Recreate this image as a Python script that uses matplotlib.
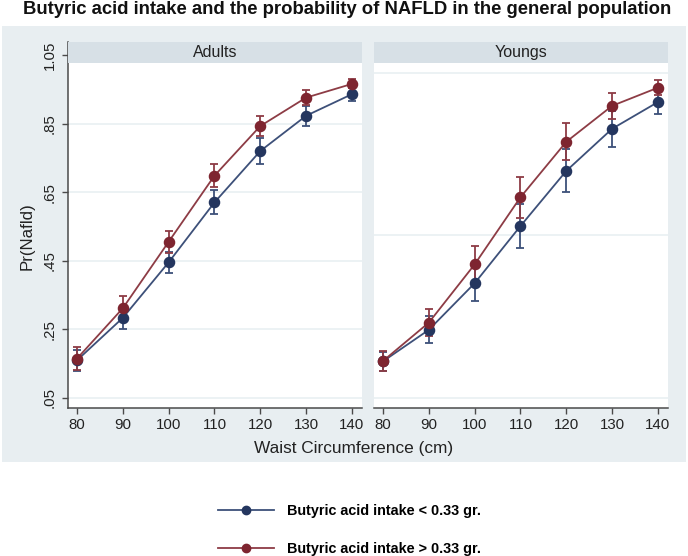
import numpy as np
import matplotlib
matplotlib.use('Agg')
import matplotlib.pyplot as plt
from matplotlib.patches import Rectangle
from matplotlib.lines import Line2D

plt.rcParams['font.family'] = ['Liberation Sans', 'DejaVu Sans']

# waist circumference (cm)
waist = [80, 90, 100, 110, 120, 130, 140]

# predicted Pr(NAFLD) and half-width of the 95% CI
adults_low = [0.160, 0.284, 0.446, 0.621, 0.771, 0.874, 0.937]
adults_low_ci = [0.030, 0.034, 0.030, 0.035, 0.038, 0.029, 0.019]
adults_high = [0.165, 0.312, 0.506, 0.699, 0.844, 0.927, 0.967]
adults_high_ci = [0.033, 0.036, 0.032, 0.033, 0.030, 0.021, 0.013]

young_low = [0.157, 0.249, 0.385, 0.552, 0.713, 0.836, 0.914]
young_low_ci = [0.028, 0.039, 0.051, 0.063, 0.063, 0.053, 0.035]
young_high = [0.158, 0.270, 0.440, 0.636, 0.798, 0.903, 0.956]
young_high_ci = [0.028, 0.040, 0.055, 0.060, 0.054, 0.037, 0.022]

panels = ['Adults', 'Youngs']
series_labels = ['Butyric acid intake < 0.33 gr.', 'Butyric acid intake > 0.33 gr.']
yticks_left = [0.05, 0.25, 0.45, 0.65, 0.85, 1.05]
ytick_labels = ['.05', '.25', '.45', '.65', '.85', '1.05']
grid_right = [0.05, 0.525, 1.0]

navy = '#24365f'
maroon = '#7e2530'
navy_line = '#3d5079'
maroon_line = '#8d3c45'
bg = '#e8eef1'
strip_col = '#d7e0e6'
grid_col = '#e9f0f2'
axis_col = '#4a4a4a'

W, H = 688, 556
fig = plt.figure(figsize=(W / 100, H / 100), dpi=100)
fig.patch.set_facecolor('white')

# light gray graph region
fig.patches.append(Rectangle((2 / W, 1 - 462 / H), 684 / W, 436 / H,
                             transform=fig.transFigure, facecolor=bg,
                             edgecolor='none', zorder=-5))


def px(x0, y0, x1, y1):
    return [x0 / W, 1 - y1 / H, (x1 - x0) / W, (y1 - y0) / H]


axL = fig.add_axes(px(68, 42, 362, 408))
axR = fig.add_axes(px(374, 42, 668, 408))

data = [(adults_low, adults_low_ci, adults_high, adults_high_ci),
        (young_low, young_low_ci, young_high, young_high_ci)]

for ax, (lo, lo_ci, hi, hi_ci) in zip([axL, axR], data):
    ax.set_facecolor('white')
    for vals, ci, mc, lc in [(lo, lo_ci, navy, navy_line), (hi, hi_ci, maroon, maroon_line)]:
        ax.errorbar(waist, vals, yerr=ci, fmt='none', ecolor=lc, elinewidth=1.3,
                    capsize=2.6, capthick=1.3, zorder=3)
        ax.plot(waist, vals, color=lc, lw=1.3, zorder=3)
        ax.plot(waist, vals, 'o', color=mc, markersize=7.3, zorder=4)
    ax.set_xlim(78.04, 142.2)
    ax.set_ylim(0.0208, 1.0894)
    ax.set_xticks(waist)
    ax.tick_params(axis='x', length=4, width=1, color=axis_col, labelsize=10.8,
                   pad=3, labelcolor='#222222')
    for s in ['top', 'right']:
        ax.spines[s].set_visible(False)
    ax.spines['bottom'].set_color(axis_col)
    ax.spines['bottom'].set_linewidth(1.1)
    ax.set_axisbelow(True)

axL.set_yticks(yticks_left)
axL.set_yticklabels(ytick_labels, rotation=90, va='center')
axL.tick_params(axis='y', length=4, width=1, color=axis_col, labelsize=10.8,
                pad=4, labelcolor='#222222')
axL.spines['left'].set_color(axis_col)
axL.spines['left'].set_linewidth(1.1)
axL.grid(axis='y', color=grid_col, lw=1.2, zorder=0)

axR.set_yticks(grid_right)
axR.set_yticklabels([])
axR.tick_params(axis='y', length=0)
axR.spines['left'].set_visible(False)
axR.grid(axis='y', color=grid_col, lw=1.2, zorder=0)

# strip headers
for (x0, x1), name in zip([(68, 362), (374, 668)], panels):
    sax = fig.add_axes(px(x0, 42, x1, 63))
    sax.set_facecolor(strip_col)
    sax.set_xticks([])
    sax.set_yticks([])
    for s in sax.spines.values():
        s.set_visible(False)
    sax.text(0.5, 0.5, name, ha='center', va='center', fontsize=11.5,
             color='#222222', transform=sax.transAxes)

fig.text(27 / W, 1 - 236 / H, 'Pr(Nafld)', rotation=90, ha='center', va='center',
         fontsize=12.2, color='#222222')
fig.text(354 / W, 1 - 448 / H, 'Waist Circumference (cm)', ha='center', va='center',
         fontsize=12.4, color='#222222')
fig.text(347 / W, 1 - 10 / H,
         'Butyric acid intake and the probability of NAFLD in the general population',
         ha='center', va='center', fontsize=13.3, fontweight='bold', color='#111111')

handles = [Line2D([], [], color=navy_line, lw=1.3, marker='o', markersize=6,
                  markerfacecolor=navy, markeredgecolor=navy),
           Line2D([], [], color=maroon_line, lw=1.3, marker='o', markersize=6,
                  markerfacecolor=maroon, markeredgecolor=maroon)]
fig.legend(handles, series_labels, loc='center left',
           bbox_to_anchor=(205 / W, 1 - 530 / H), frameon=False,
           handlelength=3.9, handletextpad=0.9, labelspacing=1.6,
           prop={'size': 10.4, 'weight': 'bold'})

fig.savefig('out.png', dpi=100)
